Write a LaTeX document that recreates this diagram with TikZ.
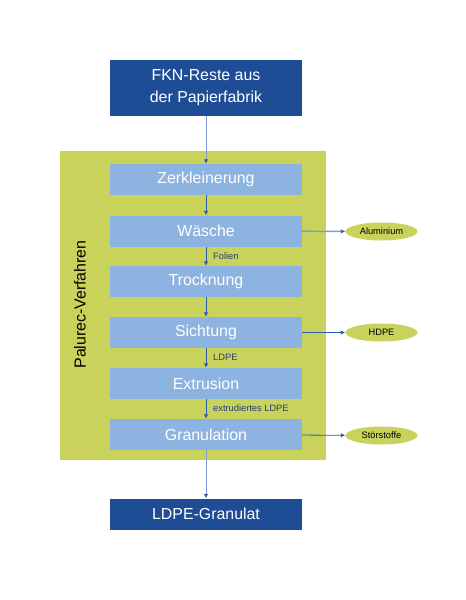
\documentclass[tikz,border=0pt]{standalone}
\usepackage{fontspec}
\setmainfont{Liberation Sans}
\usetikzlibrary{arrows.meta,shapes.geometric}
\definecolor{darkbox}{HTML}{1E4C95}
\definecolor{lightbox}{HTML}{8DB3E0}
\definecolor{greenbg}{HTML}{C9D35B}
\definecolor{arrowblue}{HTML}{2F5AA8}
\definecolor{lineblue}{HTML}{8498D4}
\definecolor{labelblue}{HTML}{1F3F7A}
\begin{document}
\begin{tikzpicture}[x=1pt,y=-1pt,
  darkstep/.style={fill=darkbox,draw=none,minimum width=192pt,minimum height=31pt,text=white,font=\fontsize{15.9}{21.7}\selectfont,align=center,inner sep=0pt},
  lightstep/.style={fill=lightbox,draw=none,minimum width=192pt,minimum height=31pt,text=white,font=\fontsize{15.9}{19}\selectfont,inner sep=0pt},
  outell/.style={ellipse,fill=greenbg,draw=none,minimum width=72pt,minimum height=18pt,inner sep=0pt,font=\fontsize{9.3}{11}\selectfont,text=black},
  flow/.style={draw=arrowblue,line width=0.8pt,-{Latex[length=4.5pt,width=4.5pt]}},
  lightflow/.style={draw=lineblue,line width=0.9pt,-{Latex[length=4.5pt,width=4.5pt,color=arrowblue]}},
  lbl/.style={font=\fontsize{9.3}{11}\selectfont,text=labelblue,anchor=west,inner sep=0pt}]
\useasboundingbox (0,0) rectangle (466,600);
\fill[white] (0,0) rectangle (466,600);
\fill[greenbg] (60,151) rectangle (326,460);
\node[darkstep,minimum height=56pt] (src) at (206,88) {FKN-Reste aus\\der Papierfabrik};
\node[lightstep] (zer) at (206,179.5) {Zerkleinerung};
\node[lightstep] (was) at (206,231) {Wäsche};
\node[lightstep] (tro) at (206,281.5) {Trocknung};
\node[lightstep] (sic) at (206,332.5) {Sichtung};
\node[lightstep] (ext) at (206,383.5) {Extrusion};
\node[lightstep] (gra) at (206,434.5) {Granulation};
\node[darkstep] (out) at (206,514) {LDPE-Granulat};
\node[rotate=90,font=\fontsize{15.9}{19}\selectfont,text=black] (pal) at (80,304.5) {Palurec-Verfahren};
\node[outell] (alu) at (381.5,231.5) {Aluminium};
\node[outell] (hdpe) at (381.5,332.5) {HDPE};
\node[outell] (sto) at (381.5,435.5) {Störstoffe};
\draw[lightflow] (src) -- (zer);
\draw[flow] (zer) -- (was);
\draw[flow] (was) -- (tro);
\draw[flow] (tro) -- (sic);
\draw[flow] (sic) -- (ext);
\draw[flow] (ext) -- (gra);
\draw[lightflow] (gra) -- (out);
\draw[lightflow,line width=1.6pt] (was) -- (alu);
\draw[flow] (sic) -- (hdpe);
\draw[flow] (gra) -- (sto);
\node[lbl] (lfol) at (213,256) {Folien};
\node[lbl] (lldpe) at (213,357) {LDPE};
\node[lbl] (lext) at (213,408) {extrudiertes LDPE};
\end{tikzpicture}
\end{document}
